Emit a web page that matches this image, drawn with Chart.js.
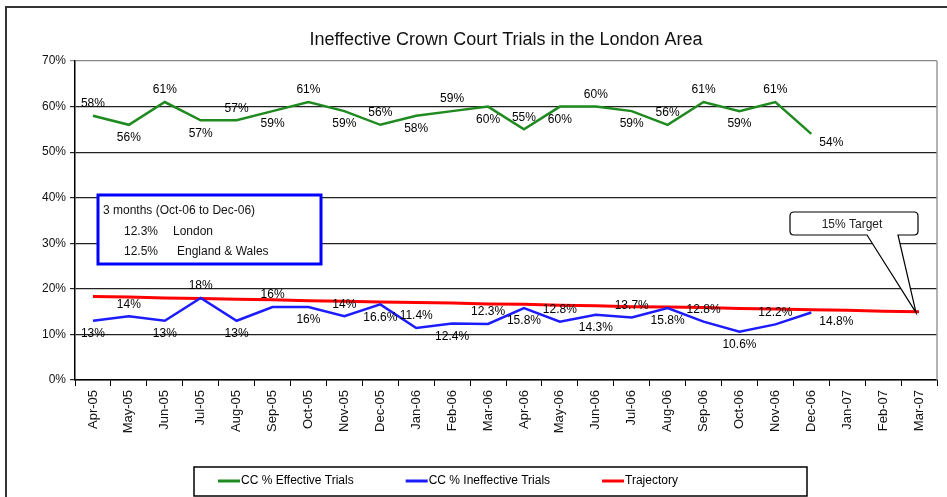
<!DOCTYPE html>
<html>
<head>
<meta charset="utf-8">
<script src="https://cdn.jsdelivr.net/npm/chart.js@4"></script>
<style>
  html, body { margin: 0; padding: 0; background: #fff; }
  #wrap { width: 947px; height: 497px; position: relative; }
</style>
</head>
<body>
<div id="wrap"><canvas id="chart" width="947" height="497"></canvas></div>
<script>
// month labels along the x axis
const months = ["Apr-05", "May-05", "Jun-05", "Jul-05", "Aug-05", "Sep-05", "Oct-05", "Nov-05", "Dec-05",
  "Jan-06", "Feb-06", "Mar-06", "Apr-06", "May-06", "Jun-06", "Jul-06", "Aug-06", "Sep-06", "Oct-06",
  "Nov-06", "Dec-06", "Jan-07", "Feb-07", "Mar-07"];

// CC % effective trials
const effective = [58, 56, 61, 57, 57, 59, 61, 59, 56, 58, 59, 60, 55, 60, 60, 59, 56, 61, 59, 61, 54];

// CC % ineffective trials
const ineffective = [13, 14, 13, 18, 13, 16, 16, 14, 16.6, 11.4, 12.4, 12.3, 15.8, 12.8, 14.3, 13.7, 15.8,
  12.8, 10.6, 12.2, 14.8];

// trajectory down to the 15% target
const trajectory = [18.3, 18.2, 18.0, 17.9, 17.7, 17.6, 17.4, 17.3, 17.1, 17.0, 16.9, 16.7, 16.6, 16.4,
  16.3, 16.1, 16.0, 15.9, 15.7, 15.6, 15.4, 15.3, 15.1, 15.0];

const yTicks = [0, 10, 20, 30, 40, 50, 60, 70];

const FONT = "'Liberation Sans', Arial, sans-serif";

// which green labels sit above the line (the rest sit below)
const greenAbove = [0, 2, 4, 6, 8, 10, 12, 14, 16, 17, 19];

const extras = {
  id: "extras",
  beforeDraw(chart) {
    const ctx = chart.ctx;
    ctx.save();
    ctx.fillStyle = "#fff";
    ctx.fillRect(0, 0, chart.width, chart.height);
    // outer frame
    ctx.strokeStyle = "#333";
    ctx.lineWidth = 2;
    ctx.strokeRect(6, 7, chart.width + 10, chart.height + 10);
    ctx.restore();
  },
  afterDatasetsDraw(chart) {
    const ctx = chart.ctx;
    const area = chart.chartArea;
    ctx.save();

    // right edge of plot area
    ctx.strokeStyle = "#999";
    ctx.lineWidth = 1.5;
    ctx.beginPath();
    ctx.moveTo(area.right, area.top);
    ctx.lineTo(area.right, area.bottom);
    ctx.stroke();

    // data labels
    ctx.font = "12px " + FONT;
    ctx.fillStyle = "#000";
    const drawLabels = (dsIndex, isAbove) => {
      const meta = chart.getDatasetMeta(dsIndex);
      const values = chart.data.datasets[dsIndex].data;
      meta.data.forEach((pt, i) => {
        const text = values[i] + "%";
        if (i === values.length - 1) {
          ctx.textAlign = "left";
          ctx.textBaseline = "middle";
          ctx.fillText(text, pt.x + 8, pt.y + 9);
          return;
        }
        ctx.textAlign = "center";
        ctx.textBaseline = "middle";
        ctx.fillText(text, pt.x, isAbove(i) ? pt.y - 12 : pt.y + 13);
      });
    };
    drawLabels(0, (i) => greenAbove.includes(i));
    drawLabels(1, (i) => i % 2 === 1);

    // 3 month summary box
    ctx.fillStyle = "#fff";
    ctx.fillRect(98, 195, 223, 69);
    ctx.strokeStyle = "#0000ff";
    ctx.lineWidth = 3;
    ctx.strokeRect(98, 195, 223, 69);
    ctx.fillStyle = "#111";
    ctx.textAlign = "left";
    ctx.textBaseline = "middle";
    ctx.font = "12px " + FONT;
    ctx.fillText("3 months (Oct-06 to Dec-06)", 103, 211);
    ctx.fillText("12.3%", 124, 232);
    ctx.fillText("London", 173, 232);
    ctx.fillText("12.5%", 124, 252);
    ctx.fillText("England & Wales", 177, 252);

    // 15% target callout pointing at the last trajectory point
    const tipX = chart.scales.x.getPixelForValue(months.length - 1);
    const tipY = chart.scales.y.getPixelForValue(15);
    const bx = 790, by = 212, bw = 128, bh = 23, r = 4;
    ctx.beginPath();
    ctx.moveTo(bx + r, by);
    ctx.lineTo(bx + bw - r, by);
    ctx.quadraticCurveTo(bx + bw, by, bx + bw, by + r);
    ctx.lineTo(bx + bw, by + bh - r);
    ctx.quadraticCurveTo(bx + bw, by + bh, bx + bw - r, by + bh);
    ctx.lineTo(898, by + bh);
    ctx.lineTo(tipX - 3, tipY + 1);
    ctx.lineTo(867, by + bh);
    ctx.lineTo(bx + r, by + bh);
    ctx.quadraticCurveTo(bx, by + bh, bx, by + bh - r);
    ctx.lineTo(bx, by + r);
    ctx.quadraticCurveTo(bx, by, bx + r, by);
    ctx.closePath();
    ctx.fillStyle = "#fff";
    ctx.fill();
    ctx.strokeStyle = "#000";
    ctx.lineWidth = 1.2;
    ctx.stroke();
    ctx.fillStyle = "#222";
    ctx.textAlign = "center";
    ctx.fillText("15% Target", bx + bw / 2 - 2, by + bh / 2 + 1);

    ctx.restore();
  },
  afterDraw(chart) {
    const ctx = chart.ctx;
    const area = chart.chartArea;
    ctx.save();

    // title
    ctx.fillStyle = "#111";
    ctx.font = "18px " + FONT;
    ctx.textAlign = "center";
    ctx.textBaseline = "middle";
    ctx.fillText("Ineffective Crown Court Trials in the London Area", (area.left + area.right) / 2, 40);

    // legend
    ctx.strokeStyle = "#000";
    ctx.lineWidth = 1.5;
    ctx.strokeRect(194, 467, 613, 29);
    ctx.font = "12px " + FONT;
    ctx.textBaseline = "middle";
    ctx.textAlign = "left";
    let x = 218;
    const ly = 481;
    chart.data.datasets.forEach((ds) => {
      ctx.strokeStyle = ds.borderColor;
      ctx.lineWidth = 3;
      ctx.beginPath();
      ctx.moveTo(x, ly);
      ctx.lineTo(x + 22, ly);
      ctx.stroke();
      ctx.fillStyle = "#000";
      ctx.fillText(ds.label, x + 23, ly);
      x += 23 + ctx.measureText(ds.label).width + 52;
    });
    ctx.restore();
  }
};

const chart = new Chart(document.getElementById("chart"), {
  type: "line",
  data: {
    labels: months,
    datasets: [
      {
        label: "CC % Effective Trials",
        data: effective,
        borderColor: "#1f8a1f",
        borderWidth: 2.5,
        pointRadius: 0,
        tension: 0
      },
      {
        label: "CC % Ineffective Trials",
        data: ineffective,
        borderColor: "#1c1cff",
        borderWidth: 2.5,
        pointRadius: 0,
        tension: 0
      },
      {
        label: "Trajectory",
        data: trajectory,
        borderColor: "#ff0000",
        borderWidth: 3,
        pointRadius: 0,
        tension: 0
      }
    ]
  },
  options: {
    responsive: false,
    animation: false,
    layout: { padding: { top: 61, right: 10, bottom: 37, left: 0 } },
    plugins: {
      legend: { display: false },
      title: { display: false },
      tooltip: { enabled: false }
    },
    scales: {
      x: {
        offset: true,
        grid: {
          offset: true,
          drawOnChartArea: false,
          drawTicks: true,
          tickLength: 6,
          color: "#000"
        },
        border: { color: "#000", width: 1.5 },
        ticks: {
          autoSkip: false,
          maxRotation: 90,
          minRotation: 90,
          padding: 4,
          color: "#111",
          font: { family: FONT, size: 13 }
        },
        afterFit(scale) { scale.height = 80; }
      },
      y: {
        min: 0,
        max: 70,
        afterBuildTicks(scale) { scale.ticks = yTicks.map((v) => ({ value: v })); },
        grid: {
          color: (c) => (c.tick && c.tick.value === 70 ? "#888" : "#222"),
          lineWidth: 1.2,
          tickLength: 5
        },
        border: { color: "#000", width: 1.5 },
        ticks: {
          padding: 4,
          color: "#111",
          font: { family: FONT, size: 12 },
          callback: (v) => v + "%"
        },
        afterFit(scale) { scale.width = 75; }
      }
    }
  },
  plugins: [extras]
});
</script>
</body>
</html>
